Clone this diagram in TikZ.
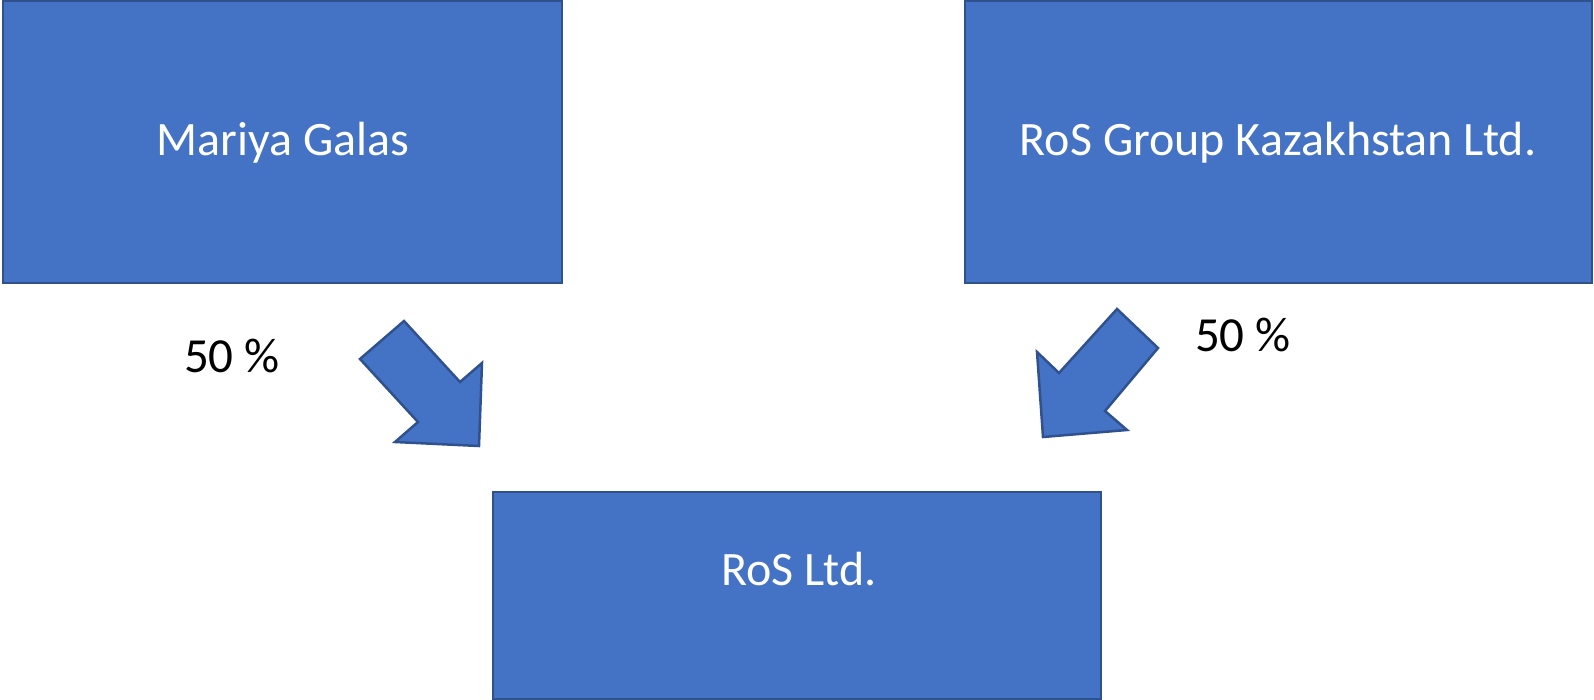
\documentclass[tikz,border=0pt]{standalone}
\usepackage{fontspec}
\setmainfont{Carlito}
\definecolor{boxfill}{HTML}{4472C4}
\definecolor{boxline}{HTML}{2F528F}
\begin{document}
\begin{tikzpicture}[x=1pt,y=-1pt,
  box/.style={fill=boxfill,draw=boxline,line width=2pt},
  boxtext/.style={text=white,font=\fontsize{48}{58}\selectfont,inner sep=0pt},
  pct/.style={text=black,font=\fontsize{49}{58}\selectfont,inner sep=0pt},
  blockarrow/.style={fill=boxfill,draw=boxline,line width=2.5pt,line join=miter}]
\useasboundingbox (0,0) rectangle (1594,699);
\draw[box] (3,1) rectangle (562,283);
\draw[box] (965,1) rectangle (1592,283);
\draw[box] (493,492) rectangle (1101,699);
\node[boxtext] (mariya) at (283,143) {Mariya Galas};
\node[boxtext] (rosgroup) at (1278,143) {RoS Group Kazakhstan Ltd.};
\node[boxtext] (rosltd) at (799,569) {RoS Ltd.};
\node[pct] (p1) at (232,356) {50 \%};
\node[pct] (p2) at (1243,335) {50 \%};
\draw[blockarrow] (360,359) -- (404,321) -- (460,382) -- (482,363) -- (479,446) -- (395,442) -- (418,422) -- cycle;
\draw[blockarrow] (1117,309) -- (1158,348) -- (1105,411) -- (1127,430) -- (1043,437) -- (1037,352) -- (1059,373) -- cycle;
\end{tikzpicture}
\end{document}
